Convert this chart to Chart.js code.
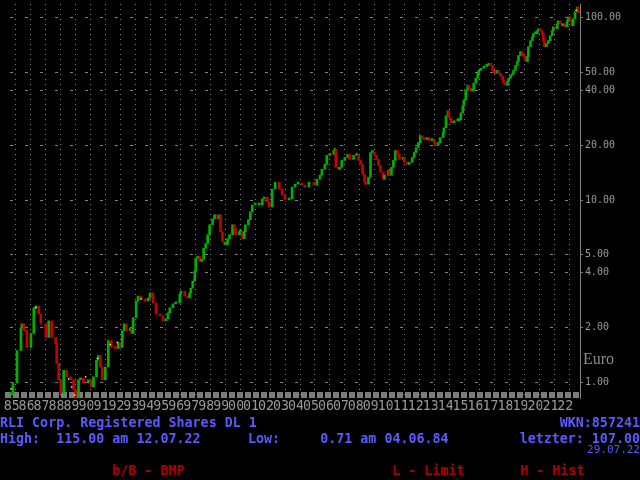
<!DOCTYPE html>
<html><head><meta charset="utf-8">
<script src="https://cdn.jsdelivr.net/npm/chart.js@4/dist/chart.umd.min.js"></script>
<style>
html,body{margin:0;padding:0;background:#000;width:640px;height:480px;overflow:hidden;}
#c{position:absolute;left:0;top:0;}
.t{position:absolute;white-space:pre;font-family:'DejaVu Sans Mono',monospace;font-size:13.33px;line-height:16px;font-weight:bold;}
.b{color:#5a5aff;}
.r{color:#aa0000;}
.s{position:absolute;white-space:pre;font-family:'DejaVu Sans Mono',monospace;font-size:11px;line-height:10px;color:#5a5aff;}
.euro{position:absolute;left:583px;top:351px;font-family:'Liberation Serif',serif;font-size:16px;line-height:16px;color:#8c8c8c;}
</style></head><body>
<canvas id="c" width="640" height="416"></canvas>
<div class="euro">Euro</div>
<div class="t b" style="left:0;top:415px">RLI Corp. Registered Shares DL 1</div>
<div class="t b" style="right:0;top:415px">WKN:857241</div>
<div class="t b" style="left:0;top:431px">High:  115.00 am 12.07.22</div>
<div class="t b" style="left:248px;top:431px">Low:     0.71 am 04.06.84</div>
<div class="t b" style="right:0;top:431px">letzter: 107.00</div>
<div class="s" style="right:0;top:445px">29.07.22</div>
<div class="t r" style="left:112px;top:463px">b/B - BMP</div>
<div class="t r" style="left:392px;top:463px">L - Limit</div>
<div class="t r" style="left:520px;top:463px">H - Hist</div>
<script>
const years = [1985,1986,1987,1988,1989,1990,1991,1992,1993,1994,1995,1996,1997,1998,1999,2000,2001,2002,2003,2004,2005,2006,2007,2008,2009,2010,2011,2012,2013,2014,2015,2016,2017,2018,2019,2020,2021,2022];
const priceTicks = [1,2,4,5,10,20,40,50,100];

const dates = [
1984.69,1984.82,1985.09,1985.35,1985.42,1985.55,1985.75,1986.02,1986.21,1986.35,
1986.55,1986.68,1987.01,1987.21,1987.41,1987.67,1987.74,1987.87,1988.01,1988.21,
1988.40,1988.67,1988.87,1989.00,1989.20,1989.33,1989.53,1989.86,1990.06,1990.20,
1990.40,1990.53,1990.66,1990.79,1990.99,1991.19,1991.39,1991.66,1991.86,1991.99,
1992.12,1992.25,1992.39,1992.65,1992.72,1992.85,1993.05,1993.18,1993.38,1993.65,
1993.85,1993.98,1994.18,1994.38,1994.64,1994.84,1995.04,1995.17,1995.30,1995.51,
1995.70,1995.97,1996.04,1996.30,1996.50,1996.63,1996.70,1996.83,1996.97,1997.03,
1997.16,1997.30,1997.43,1997.56,1997.70,1997.83,1997.96,1998.16,1998.29,1998.49,
1998.62,1998.69,1998.82,1998.96,1999.02,1999.16,1999.29,1999.49,1999.62,1999.69,
1999.95,2000.02,2000.15,2000.28,2000.35,2000.55,2000.68,2000.81,2001.01,2001.28,
2001.48,2001.61,2001.81,2001.94,2002.14,2002.34,2002.61,2002.81,2003.00,2003.27,
2003.47,2003.67,2003.87,2004.13,2004.33,2004.60,2004.93,2005.13,2005.33,2005.46,
2005.66,2005.79,2005.99,2006.26,2006.32,2006.39,2006.59,2006.65,2006.79,2006.99,
2007.18,2007.32,2007.58,2007.78,2007.92,2008.05,2008.18,2008.31,2008.38,2008.58,
2008.71,2008.84,2008.98,2009.11,2009.24,2009.38,2009.57,2009.64,2009.91,2009.97,
2010.11,2010.24,2010.37,2010.50,2010.64,2010.90,2010.97,2011.17,2011.30,2011.50,
2011.63,2011.76,2011.90,2012.03,2012.16,2012.29,2012.49,2012.63,2012.83,2012.96,
2013.02,2013.22,2013.36,2013.56,2013.62,2013.76,2013.89,2013.95,2014.09,2014.29,
2014.55,2014.62,2014.75,2014.88,2014.95,2015.08,2015.21,2015.28,2015.41,2015.55,
2015.61,2015.75,2015.88,2015.94,2016.08,2016.28,2016.48,2016.61,2016.74,2016.87,
2016.94,2017.14,2017.27,2017.40,2017.54,2017.60,2017.74,2017.87,2017.94,2018.07,
2018.20,2018.27,2018.40,2018.53,2018.60,2018.73,2018.86,2018.93,2019.06,2019.13,
2019.20,2019.26,2019.40,2019.53,2019.59,2019.73,2019.86,2019.93,2020.06,2020.19,
2020.26,2020.33,2020.46,2020.59,2020.72,2020.85,2020.92,2021.05,2021.19,2021.25,
2021.39,2021.52,2021.58,2021.72,2021.85,2021.92,2022.05,2022.18,2022.25,2022.38,
2022.52,2022.58];

const closes = [
0.85,0.99,1.49,1.99,2.09,1.92,1.55,1.85,2.56,2.62,
2.37,2.09,1.76,2.17,1.76,1.63,1.27,1.03,0.87,1.16,
1.07,1.03,0.91,0.82,1.03,1.05,0.99,1.03,0.94,1.07,
1.32,1.40,1.21,1.03,1.21,1.69,1.55,1.53,1.65,1.55,
1.92,2.09,1.92,1.92,1.85,2.26,2.79,2.97,2.86,2.79,
2.90,3.09,2.72,2.37,2.31,2.17,2.23,2.40,2.56,2.69,
2.72,3.05,3.16,2.97,2.90,3.09,3.28,3.58,4.06,4.78,
4.90,4.60,4.72,5.42,5.77,6.45,7.31,7.88,8.29,7.88,
8.29,6.70,5.91,5.69,5.69,6.14,6.45,7.31,6.96,6.45,
6.70,6.70,6.14,6.70,7.31,7.79,8.60,9.39,9.39,9.39,
10.13,10.38,9.75,9.16,11.48,12.53,11.48,10.65,10.00,10.13,
11.77,12.22,12.38,12.07,11.77,12.53,12.07,13.01,13.67,14.74,
15.69,17.57,17.78,18.70,18.93,15.11,14.74,15.11,16.50,17.13,
17.78,16.71,17.57,17.57,16.50,15.69,13.85,12.53,12.22,13.34,
18.23,18.23,17.57,16.71,15.49,14.20,13.01,13.67,14.56,13.67,
15.11,16.50,18.70,17.78,16.71,17.13,16.09,15.69,16.09,17.13,
18.23,19.41,20.66,22.56,22.00,21.45,22.00,21.19,21.45,20.66,
19.90,20.66,22.00,23.42,24.93,28.97,30.84,28.26,26.54,27.21,
27.21,27.55,30.08,32.84,35.40,40.11,42.70,41.13,39.61,40.11,
43.78,46.61,49.62,51.52,52.83,54.17,54.85,56.23,54.85,51.52,
49.62,51.52,49.62,47.79,45.45,43.78,42.70,44.89,46.61,48.39,
49.62,51.52,54.85,57.67,62.16,65.35,63.73,61.38,58.39,57.67,
61.38,69.56,74.99,78.83,81.85,81.85,84.99,87.15,84.99,81.85,
74.99,69.56,72.23,74.99,79.84,84.99,89.36,87.15,92.77,96.32,
92.77,90.49,92.77,89.36,96.32,101.3,95.12,90.49,98.76,107.8,
114.8,107.0];

const markDates  = [1984.69,1986.35,1988.54,1988.74,1988.94,1989.67,1990.46,1991.32,1991.79,1993.38,2022.45];
const markValues = [0.92,2.56,1.04,0.94,0.85,1.07,1.35,1.61,1.65,2.86,110.0];

const UP = '#00b000', DOWN = '#c80000', GRID = '#808080', LABEL = '#9a9a9a';

const bars = dates.map((d, i) => ({x: d, y: [i ? closes[i - 1] : closes[i], closes[i]]}));
const barColors = closes.map((c, i) => (i === 0 || c >= closes[i - 1]) ? UP : DOWN);
const marks = markDates.map((d, i) => ({x: d, y: markValues[i]}));

const stripPlugin = {
  id: 'strip',
  beforeDatasetsDraw(chart) {
    const {ctx, chartArea: a} = chart;
    ctx.save();
    ctx.strokeStyle = '#7c7c7c';
    ctx.lineWidth = 6;
    ctx.setLineDash([6, 2]);
    ctx.beginPath();
    ctx.moveTo(a.left + 1, a.bottom - 3);
    ctx.lineTo(a.right, a.bottom - 3);
    ctx.stroke();
    ctx.restore();
  }
};

new Chart(document.getElementById('c'), {
  type: 'bar',
  data: {
    datasets: [
      {type: 'scatter', data: marks, pointStyle: 'rect', pointRadius: 1, backgroundColor: '#ffff55', borderWidth: 0, order: 0},
      {data: bars, backgroundColor: barColors, borderWidth: 0, barThickness: 2, minBarLength: 2, order: 1}
    ]
  },
  options: {
    responsive: false, animation: false, devicePixelRatio: 1,
    layout: {padding: 0},
    plugins: {legend: {display: false}, tooltip: {enabled: false}},
    scales: {
      x: {
        type: 'linear', min: 1984.22, max: 2022.71, offset: false,
        grid: {color: GRID, lineWidth: 1, drawTicks: false, offset: false},
        border: {display: false, dash: [1, 4]},
        afterBuildTicks: s => { s.ticks = years.map(v => ({value: v})); },
        ticks: {autoSkip: false, maxRotation: 0, minRotation: 0, color: LABEL,
          font: {family: 'DejaVu Sans Mono', size: 13.33}, padding: 1, labelOffset: -4,
          showLabelBackdrop: true, backdropColor: '#000', backdropPadding: 0,
          callback: v => String(v).slice(2)},
        afterFit: s => { s.height = 18; s.paddingLeft = 0; s.paddingRight = 0; }
      },
      y: {
        type: 'logarithmic', position: 'right', min: 0.818, max: 119.2,
        grid: {color: GRID, lineWidth: 1, drawTicks: true, tickLength: 3, tickColor: GRID},
        border: {display: true, color: GRID, width: 1, dash: [3, 12], dashOffset: 9},
        afterBuildTicks: s => { s.ticks = priceTicks.map(v => ({value: v})); },
        ticks: {autoSkip: false, color: LABEL, font: {family: 'DejaVu Sans Mono', size: 10}, padding: 2,
          callback: v => Number(v).toFixed(2)},
        afterFit: s => { s.width = 60; s.paddingTop = 0; s.paddingBottom = 0; }
      }
    }
  },
  plugins: [stripPlugin]
});
</script>
</body></html>
